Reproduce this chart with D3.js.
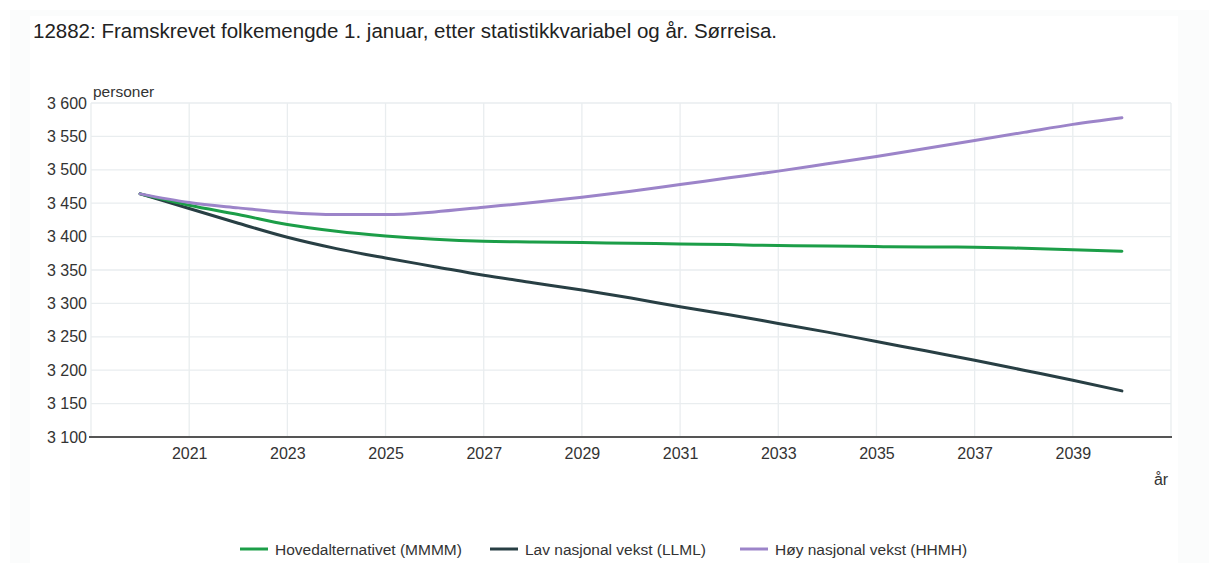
<!DOCTYPE html>
<html lang="no">

<head>
  <meta charset="UTF-8">
  <title>12882 Sørreisa</title>
  <style>
    body {
      margin: 0;
      background: #fff;
      font-family: "Liberation Sans", Arial, sans-serif;
    }
  </style>
</head>

<body>
  <div id="chart"></div>

  <script src="https://d3js.org/d3.v7.min.js"></script>
  <script>
    const years = d3.range(2020, 2041)
    const tickYears = [2021, 2023, 2025, 2027, 2029, 2031, 2033, 2035, 2037, 2039]
    const yTicks = [3100, 3150, 3200, 3250, 3300, 3350, 3400, 3450, 3500, 3550, 3600]

    // verdier lest av bildet
    const hovedalternativet = [3464, 3447, 3433, 3418, 3408, 3401, 3396, 3393, 3392, 3391, 3390,
      3389, 3388, 3386.5, 3386, 3385, 3384.5, 3384, 3382.5, 3380.5, 3378]
    const lavVekst = [3464, 3442, 3420, 3399, 3382, 3368, 3355, 3342, 3331, 3320, 3308,
      3295, 3283, 3270, 3257, 3243, 3229, 3215, 3200, 3185, 3169]
    const hoyVekst = [3464, 3451, 3443, 3436, 3433, 3433, 3437, 3444, 3451, 3459, 3468,
      3478, 3488, 3498, 3509, 3520, 3532, 3544, 3556, 3568, 3578]

    const seriesNames = ['Hovedalternativet (MMMM)', 'Lav nasjonal vekst (LLML)', 'Høy nasjonal vekst (HHMH)']
    const seriesColors = ['#1c9e48', '#283f44', '#9c84c9']
    const seriesValues = [hovedalternativet, lavVekst, hoyVekst]

    const width = 1209
    const height = 563
    const plot = { left: 91, right: 1171, top: 103, bottom: 437 }
    const fontFamily = '"Liberation Sans", Arial, sans-serif'

    const svg = d3.select('#chart').append('svg')
      .attr('width', width)
      .attr('height', height)
      .attr('font-family', fontFamily)

    // svak bakgrunnsramme
    svg.append('rect')
      .attr('x', 10).attr('y', 10).attr('width', 1199).attr('height', 553)
      .attr('fill', '#fbfcfc')
    svg.append('rect')
      .attr('x', 30).attr('y', 16).attr('width', 1148).attr('height', 547)
      .attr('fill', '#fff')

    svg.append('text')
      .attr('x', 33).attr('y', 38)
      .attr('font-size', 20.5)
      .attr('fill', '#222')
      .text('12882: Framskrevet folkemengde 1. januar, etter statistikkvariabel og år. Sørreisa.')

    const x = d3.scaleLinear().domain([2019, 2041]).range([plot.left, plot.right])
    const y = d3.scaleLinear().domain([3100, 3600]).range([plot.bottom, plot.top])

    const fmt = v => d3.format(',')(v).replace(',', ' ')

    // rutenett
    const grid = svg.append('g').attr('stroke', '#e9edef').attr('stroke-width', 1.3)
    grid.selectAll('.hy').data(yTicks.slice(1)).join('line')
      .attr('x1', plot.left).attr('x2', plot.right)
      .attr('y1', d => y(d)).attr('y2', d => y(d))
    grid.selectAll('.vx').data(tickYears).join('line')
      .attr('x1', d => x(d)).attr('x2', d => x(d))
      .attr('y1', plot.top).attr('y2', plot.bottom)
    grid.append('line')
      .attr('x1', plot.left).attr('x2', plot.left).attr('y1', plot.top).attr('y2', plot.bottom)
    grid.append('line')
      .attr('x1', plot.right).attr('x2', plot.right).attr('y1', plot.top).attr('y2', plot.bottom)

    // y-akse
    const yAxis = svg.append('g')
      .attr('transform', `translate(${plot.left},0)`)
      .call(d3.axisLeft(y).tickValues(yTicks).tickFormat(fmt).tickSize(0).tickPadding(4))
    yAxis.select('.domain').remove()
    yAxis.selectAll('text')
      .attr('font-family', fontFamily)
      .attr('font-size', 16).attr('fill', '#333')

    // x-akse
    const xAxis = svg.append('g')
      .attr('transform', `translate(0,${plot.bottom})`)
      .call(d3.axisBottom(x).tickValues(tickYears).tickFormat(d3.format('d')).tickSize(0).tickPadding(11))
    xAxis.select('.domain').remove()
    xAxis.selectAll('text')
      .attr('font-family', fontFamily)
      .attr('font-size', 16).attr('fill', '#333')
    svg.append('line')
      .attr('x1', plot.left - 2).attr('x2', plot.right + 1)
      .attr('y1', plot.bottom).attr('y2', plot.bottom)
      .attr('stroke', '#555').attr('stroke-width', 2)

    svg.append('text')
      .attr('x', plot.left + 2).attr('y', 97)
      .attr('font-size', 15.5).attr('fill', '#333')
      .text('personer')

    svg.append('text')
      .attr('x', 1161).attr('y', 485)
      .attr('text-anchor', 'middle')
      .attr('font-size', 16).attr('fill', '#333')
      .text('år')

    // linjer
    const line = d3.line()
      .x((d, i) => x(years[i]))
      .y(d => y(d))
      .curve(d3.curveMonotoneX)

    // tegn lav og hoved først, høy øverst
    ;[1, 0, 2].forEach(k => {
      svg.append('path')
        .datum(seriesValues[k])
        .attr('d', line)
        .attr('fill', 'none')
        .attr('stroke', seriesColors[k])
        .attr('stroke-width', 3)
        .attr('stroke-linecap', 'round')
    })

    // tegnforklaring
    const legendX = [240, 490, 740]
    const legend = svg.append('g')
    seriesNames.forEach((name, i) => {
      legend.append('line')
        .attr('x1', legendX[i]).attr('x2', legendX[i] + 28)
        .attr('y1', 549).attr('y2', 549)
        .attr('stroke', seriesColors[i]).attr('stroke-width', 3)
      legend.append('text')
        .attr('x', legendX[i] + 35).attr('y', 554.5)
        .attr('font-size', 15.5).attr('fill', '#333')
        .text(name)
    })
  </script>
</body>

</html>
